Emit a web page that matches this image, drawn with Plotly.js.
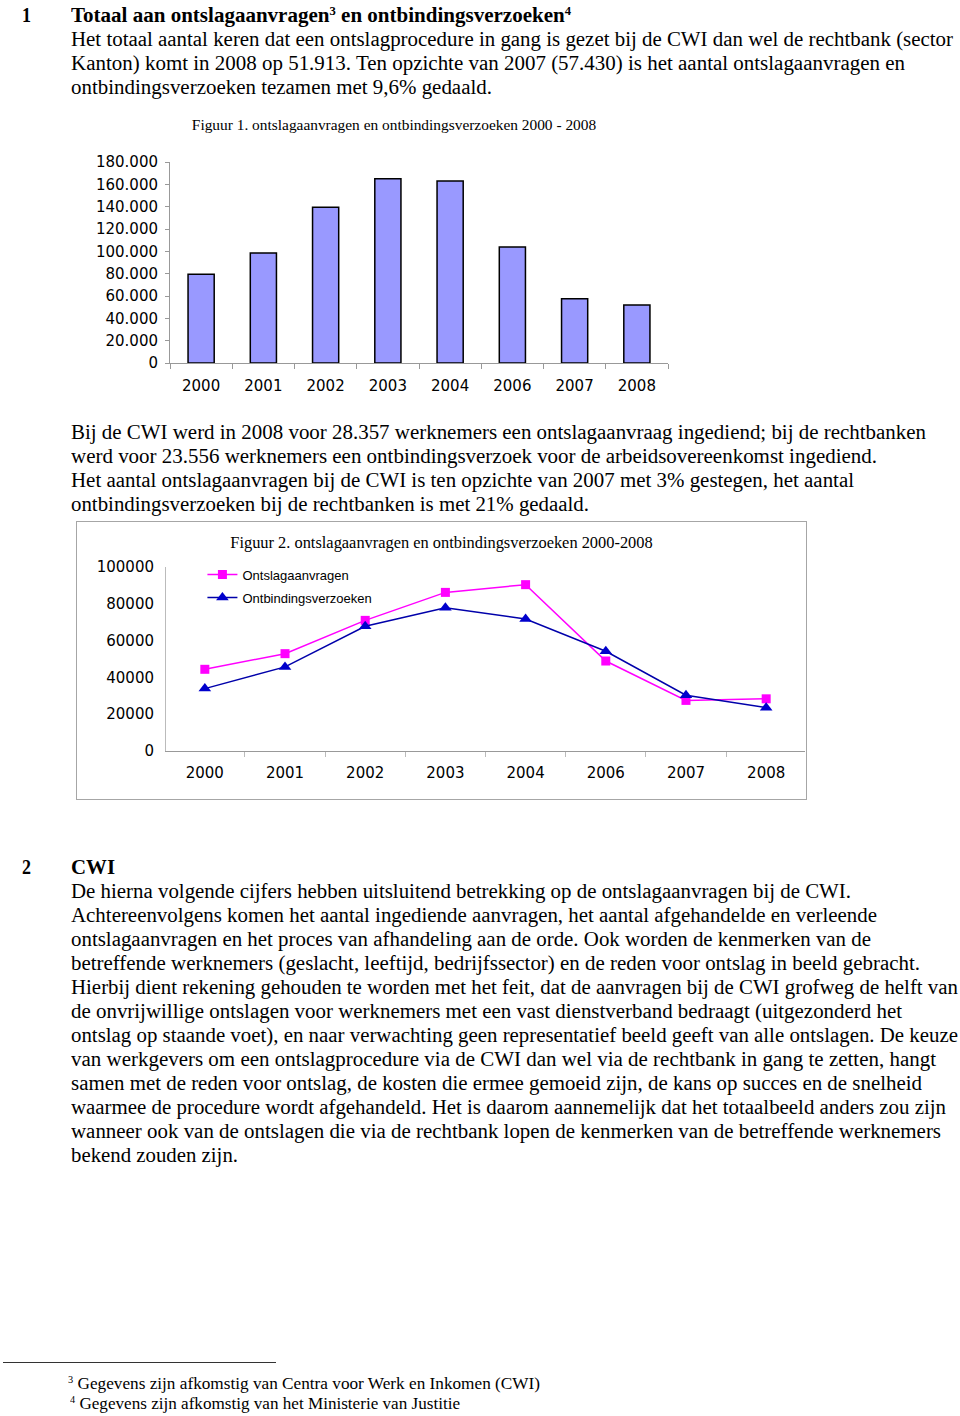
<!DOCTYPE html>
<html>
<head>
<meta charset="utf-8">
<script src="https://cdn.plot.ly/plotly-3.0.1.min.js"></script>
<style>
html,body{margin:0;padding:0;background:#fff;}
#page{position:relative;width:960px;height:1416px;overflow:hidden;background:#fff;}
.ln{position:absolute;white-space:nowrap;font-family:"Liberation Serif","Times New Roman",serif;color:#000;line-height:24px;transform-origin:0 50%;}
.ln sup{font-size:60%;vertical-align:0;position:relative;top:-0.6em;}
</style>
</head>
<body>
<div id="page">
  <div id="chart1" style="position:absolute;left:0;top:100px;width:700px;height:310px;"></div>
  <div id="chart2" style="position:absolute;left:77px;top:522px;width:728px;height:277px;"></div>
  <div style="position:absolute;left:76px;top:521px;width:729px;height:277px;border:1.5px solid #a6a6a6;pointer-events:none;"></div>
  <div style="position:absolute;left:3px;top:1362px;width:273px;height:0;border-top:1.3px solid #333;"></div>
</div>
<script>
// ---------- data ----------
const years = ["2000", "2001", "2002", "2003", "2004", "2006", "2007", "2008"];
const totalRequests = [79500, 98400, 139500, 165000, 162900, 103800, 57430, 51913];
const ontslagaanvragen = [44400, 52900, 71000, 86200, 90400, 48900, 27500, 28357];
const ontbindingsverzoeken = [33900, 45700, 67800, 77900, 71700, 54200, 30300, 23556];
const seriesNames = ["Ontslagaanvragen", "Ontbindingsverzoeken"];
const title1 = "Figuur 1. ontslagaanvragen en ontbindingsverzoeken 2000 - 2008";
const title2 = "Figuur 2. ontslagaanvragen en ontbindingsverzoeken 2000-2008";

// ---------- text ----------
const textLines = [
  {x:22, y:15, w:9, fs:20, b:true, h:"1"},
  {x:71, y:15, w:500, fs:20, b:true, h:"Totaal aan ontslagaanvragen<sup>3</sup> en ontbindingsverzoeken<sup>4</sup>"},
  {x:71, y:39, w:882, fs:20, h:"Het totaal aantal keren dat een ontslagprocedure in gang is gezet bij de CWI dan wel de rechtbank (sector"},
  {x:71, y:63, w:834, fs:20, h:"Kanton) komt in 2008 op 51.913. Ten opzichte van 2007 (57.430) is het aantal ontslagaanvragen en"},
  {x:71, y:87, w:421, fs:20, h:"ontbindingsverzoeken tezamen met 9,6% gedaald."},
  {x:71, y:432, w:855, fs:20, h:"Bij de CWI werd in 2008 voor 28.357 werknemers een ontslagaanvraag ingediend; bij de rechtbanken"},
  {x:71, y:456, w:806, fs:20, h:"werd voor 23.556 werknemers een ontbindingsverzoek voor de arbeidsovereenkomst ingediend."},
  {x:71, y:480, w:783, fs:20, h:"Het aantal ontslagaanvragen bij de CWI is ten opzichte van 2007 met 3% gestegen, het aantal"},
  {x:71, y:504, w:518, fs:20, h:"ontbindingsverzoeken bij de rechtbanken is met 21% gedaald."},
  {x:22, y:867, w:9, fs:20, b:true, h:"2"},
  {x:71, y:867, w:44, fs:20, b:true, h:"CWI"},
  {x:71, y:891, w:780, fs:20, h:"De hierna volgende cijfers hebben uitsluitend betrekking op de ontslagaanvragen bij de CWI."},
  {x:71, y:915, w:806, fs:20, h:"Achtereenvolgens komen het aantal ingediende aanvragen, het aantal afgehandelde en verleende"},
  {x:71, y:939, w:800, fs:20, h:"ontslagaanvragen en het proces van afhandeling aan de orde. Ook worden de kenmerken van de"},
  {x:71, y:963, w:849, fs:20, h:"betreffende werknemers (geslacht, leeftijd, bedrijfssector) en de reden voor ontslag in beeld gebracht."},
  {x:71, y:987, w:887, fs:20, h:"Hierbij dient rekening gehouden te worden met het feit, dat de aanvragen bij de CWI grofweg de helft van"},
  {x:71, y:1011, w:831, fs:20, h:"de onvrijwillige ontslagen voor werknemers met een vast dienstverband bedraagt (uitgezonderd het"},
  {x:71, y:1035, w:887, fs:20, h:"ontslag op staande voet), en naar verwachting geen representatief beeld geeft van alle ontslagen. De keuze"},
  {x:71, y:1059, w:865, fs:20, h:"van werkgevers om een ontslagprocedure via de CWI dan wel via de rechtbank in gang te zetten, hangt"},
  {x:71, y:1083, w:851, fs:20, h:"samen met de reden voor ontslag, de kosten die ermee gemoeid zijn, de kans op succes en de snelheid"},
  {x:71, y:1107, w:875, fs:20, h:"waarmee de procedure wordt afgehandeld. Het is daarom aannemelijk dat het totaalbeeld anders zou zijn"},
  {x:71, y:1131, w:870, fs:20, h:"wanneer ook van de ontslagen die via de rechtbank lopen de kenmerken van de betreffende werknemers"},
  {x:71, y:1155, w:167, fs:20, h:"bekend zouden zijn."},
  {x:68, y:1384, w:472, fs:17, h:"<sup>3</sup> Gegevens zijn afkomstig van Centra voor Werk en Inkomen (CWI)"},
  {x:70, y:1404, w:390, fs:17, h:"<sup>4</sup> Gegevens zijn afkomstig van het Ministerie van Justitie"}
];

const page = document.getElementById('page');
textLines.forEach(l => {
  const d = document.createElement('div');
  d.className = 'ln';
  d.style.left = l.x + 'px';
  d.style.top = (l.y - 12) + 'px';
  d.style.fontSize = l.fs + 'px';
  if (l.b) d.style.fontWeight = 'bold';
  d.innerHTML = l.h;
  page.appendChild(d);
  const w = d.getBoundingClientRect().width;
  if (w > 0) d.style.transform = 'scaleX(' + (l.w / w) + ')';
});

// ---------- chart 1 ----------
const tickFont = {family: '"DejaVu Sans", Verdana, sans-serif', size: 15, color: '#000'};
Plotly.newPlot('chart1', [{
  type: 'bar',
  x: years,
  y: totalRequests,
  marker: {color: '#9999FF', line: {color: '#000', width: 1.5}},
  hoverinfo: 'x+y'
}], {
  width: 700, height: 310,
  margin: {l: 170, r: 32, t: 62, b: 47, pad: 0},
  paper_bgcolor: 'rgba(0,0,0,0)', plot_bgcolor: 'rgba(0,0,0,0)',
  separators: ',.',
  showlegend: false,
  bargap: 0.58,
  title: {text: title1, font: {family: '"Liberation Serif", serif', size: 15.4, color: '#000'},
          xref: 'container', x: 394 / 700, xanchor: 'center', yref: 'container', y: 1 - 25 / 310, yanchor: 'middle'},
  xaxis: {type: 'category', showline: true, linecolor: '#999', linewidth: 1, ticks: 'outside', tickson: 'boundaries',
          ticklen: 5, tickcolor: '#999', tickfont: tickFont, ticklabelstandoff: 9, showgrid: false, zeroline: false, fixedrange: true},
  yaxis: {range: [0, 180000], dtick: 20000, tickformat: ',d', showline: true, linecolor: '#999', linewidth: 1,
          ticks: 'outside', ticklen: 4, tickcolor: '#999', tickfont: tickFont, ticklabelstandoff: 4,
          showgrid: false, zeroline: false, fixedrange: true}
}, {staticPlot: true});

// ---------- chart 2 ----------
Plotly.newPlot('chart2', [{
  type: 'scatter', mode: 'lines+markers', name: seriesNames[0], legendgroup: 'a',
  x: years, y: ontslagaanvragen,
  line: {color: '#FF00FF', width: 1.5},
  marker: {symbol: 'square', size: 9, color: '#FF00FF'}
}, {
  type: 'scatter', mode: 'lines+markers', name: seriesNames[1], legendgroup: 'b',
  x: years, y: ontbindingsverzoeken,
  line: {color: '#0000AA', width: 1.5},
  marker: {symbol: 'triangle-up', size: 11, color: '#0000CC'}
}], {
  width: 728, height: 277,
  margin: {l: 89, r: 0, t: 45, b: 48, pad: 0},
  paper_bgcolor: 'rgba(0,0,0,0)', plot_bgcolor: 'rgba(0,0,0,0)',
  title: {text: title2, font: {family: '"Liberation Serif", serif', size: 16.4, color: '#000'},
          xref: 'container', x: 364.5 / 728, xanchor: 'center', yref: 'container', y: 1 - 20 / 277, yanchor: 'middle'},
  showlegend: true,
  legend: {x: 0.057, y: 1.04, xanchor: 'left', yanchor: 'top', bgcolor: 'rgba(0,0,0,0)', borderwidth: 0,
           font: {family: '"Liberation Sans", Arial, sans-serif', size: 13, color: '#000'},
           traceorder: 'grouped', tracegroupgap: 3},
  xaxis: {type: 'category', showline: true, linecolor: '#999', linewidth: 1, ticks: 'outside', tickson: 'boundaries',
          ticklen: 5, tickcolor: '#bbb', tickfont: tickFont, ticklabelstandoff: 8, showgrid: false, zeroline: false, fixedrange: true},
  yaxis: {range: [0, 100000], dtick: 20000, tickformat: 'd', showline: true, linecolor: '#bbb', linewidth: 1,
          ticks: '', tickfont: tickFont, ticklabelstandoff: 8, showgrid: false, zeroline: false, fixedrange: true}
}, {staticPlot: true});
</script>
</body>
</html>
